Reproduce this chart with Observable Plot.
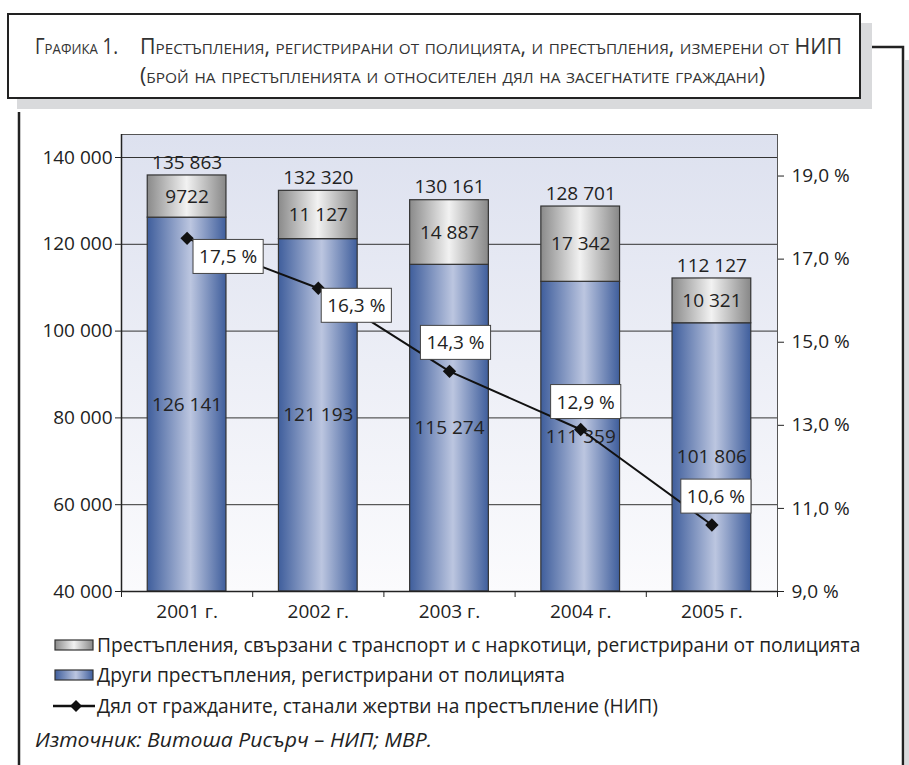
<!DOCTYPE html>
<html><head><meta charset="utf-8">
<script src="https://cdn.jsdelivr.net/npm/d3@7"></script>
<script src="https://cdn.jsdelivr.net/npm/@observablehq/plot@0.6"></script>
<style>
body{margin:0;background:#fff;}
#wrap{position:relative;width:909px;height:765px;overflow:hidden;font-family:"Open Sans",sans-serif;color:#222;}
#chart{position:absolute;left:0;top:0;}
#deco{position:absolute;left:0;top:0;}
</style></head><body>
<div id="wrap"><div id="chart"></div>
<svg id="deco" width="909" height="765" xmlns="http://www.w3.org/2000/svg">
<defs>
<linearGradient id="blueGrad" x1="0" x2="1" y1="0" y2="0">
<stop offset="0" stop-color="#3f5e9c"/><stop offset="0.55" stop-color="#bcc6e0"/><stop offset="1" stop-color="#3f5e9c"/>
</linearGradient>
<linearGradient id="greyGrad" x1="0" x2="1" y1="0" y2="0">
<stop offset="0" stop-color="#8a8a8a"/><stop offset="0.5" stop-color="#f2f2f2"/><stop offset="1" stop-color="#878787"/>
</linearGradient>
<linearGradient id="bgGrad" x1="0" x2="0" y1="0" y2="1">
<stop offset="0" stop-color="#dde1ef"/><stop offset="1" stop-color="#fbfbfd"/>
</linearGradient>
</defs>
<rect x="17" y="23" width="855" height="86" fill="#d9dadc"/>
<rect x="905" y="60" width="4" height="705" fill="#d9dadc"/>
<path d="M872 47 H903 V765" fill="none" stroke="#222" stroke-width="2.5"/>
<path d="M19 112 V765" fill="none" stroke="#222" stroke-width="2.5"/>
<rect x="8" y="14" width="852" height="84" fill="#fff" stroke="#222" stroke-width="2"/>
<g id="titleG" fill="#333" font-family="Open Sans" style="font-variant:small-caps"></g>
<g id="legendG" font-family="Open Sans" font-size="19" fill="#222"></g>
</svg>
</div>
<script>
const years = ["2001 г.", "2002 г.", "2003 г.", "2004 г.", "2005 г."];
const otherCrimes = [126141, 121193, 115274, 111359, 101806];
const transportDrugCrimes = [9722, 11127, 14887, 17342, 10321];
const victimShare = [17.5, 16.3, 14.3, 12.9, 10.6];
const leftTicks = [40000, 60000, 80000, 100000, 120000, 140000];
const rightTicks = [9, 11, 13, 15, 17, 19];
const labelDx = [41, 38, 6, 5, 4];
const labelDy = [19, 18, -28, -27, -28];
const titleLine1a = "Графика 1.";
const titleLine1b = "Престъпления, регистрирани от полицията, и престъпления, измерени от НИП";
const titleLine2 = "(брой на престъпленията и относителен дял на засегнатите граждани)";
const legendLabels = [
  "Престъпления, свързани с транспорт и с наркотици, регистрирани от полицията",
  "Други престъпления, регистрирани от полицията",
  "Дял от гражданите, станали жертви на престъпление (НИП)"
];
const sourceText = "Източник: Витоша Рисърч – НИП; МВР.";

const Y0 = 40000, Y1 = 145300, P0 = 9, P1 = 20;
const toY = p => Y0 + (p - P0) / (P1 - P0) * (Y1 - Y0);
const fromY = v => P0 + (v - Y0) / (Y1 - Y0) * (P1 - P0);
const fmtNum = n => n >= 10000 ? d3.format(",")(n).replace(/,/g, " ") : String(n);
const fmtPct = p => p.toFixed(1).replace(".", ",") + " %";

const rows = years.map((year, i) => ({
  i, year,
  other: otherCrimes[i],
  transport: transportDrugCrimes[i],
  total: otherCrimes[i] + transportDrugCrimes[i],
  share: victimShare[i]
}));

const cx = d => d.i + 0.5;

const marks = [
  Plot.frame({fill: "url(#bgGrad)", stroke: "#555"}),
  Plot.gridY(leftTicks, {stroke: "#333", strokeOpacity: 1, strokeWidth: 1}),
  Plot.rectY(rows, {x1: d => d.i + 0.2, x2: d => d.i + 0.8, y1: d => Y0, y2: d => d.other, fill: "url(#blueGrad)", stroke: "#333", strokeWidth: 1.2}),
  Plot.rectY(rows, {x1: d => d.i + 0.2, x2: d => d.i + 0.8, y1: d => d.other, y2: d => d.total, fill: "url(#greyGrad)", stroke: "#333", strokeWidth: 1.2}),
  Plot.ruleY([Y0], {stroke: "#222", strokeWidth: 1.5}),
  Plot.ruleX([0], {stroke: "#222", strokeWidth: 1.5}),
  Plot.text(rows, {x: cx, y: d => d.total, text: d => fmtNum(d.total), dy: -13, fill: "#222"}),
  Plot.text(rows, {x: cx, y: d => (d.other + d.total) / 2, text: d => fmtNum(d.transport), fill: "#222"}),
  Plot.text(rows, {x: cx, y: d => (Y0 + d.other) / 2, text: d => fmtNum(d.other), fill: "#222"}),
  Plot.line(rows, {x: cx, y: d => toY(d.share), stroke: "#111", strokeWidth: 2}),
  Plot.dot(rows, {x: cx, y: d => toY(d.share), symbol: "diamond2", r: 6, fill: "#111", stroke: "none"}),
  ...rows.map((d, i) => Plot.text([d], {x: cx, y: r => toY(r.share), text: r => fmtPct(r.share), dx: labelDx[i], dy: labelDy[i], fill: "#222"})),
  Plot.axisY(leftTicks, {anchor: "left", tickSize: 6, tickPadding: 3, tickFormat: fmtNum, label: null}),
  Plot.axisY(rightTicks.map(toY), {anchor: "right", tickSize: 6, tickPadding: 8, tickFormat: v => fmtPct(fromY(v)), label: null}),
  Plot.axisX([0, 1, 2, 3, 4, 5], {tickSize: 6, tickFormat: () => "", label: null}),
  Plot.axisX(rows.map(cx), {tickSize: 0, tickPadding: 13, tickFormat: v => years[Math.floor(v)], label: null})
];

const svg = Plot.plot({
  width: 909, height: 620,
  marginLeft: 121, marginRight: 132, marginTop: 134, marginBottom: 29,
  x: {type: "linear", domain: [0, 5]},
  y: {domain: [Y0, Y1]},
  style: {fontSize: "19px", fontFamily: "Open Sans", color: "#222", background: "transparent", overflow: "visible"},
  marks
});
document.getElementById("chart").appendChild(svg);

// white boxes behind the percentage labels
const shareLabels = new Set(victimShare.map(fmtPct));
svg.querySelectorAll("text").forEach(t => {
  if (!shareLabels.has(t.textContent)) return;
  const b = t.getBBox();
  const r = document.createElementNS("http://www.w3.org/2000/svg", "rect");
  r.setAttribute("x", b.x - 6);
  r.setAttribute("y", b.y - 4);
  r.setAttribute("width", b.width + 12);
  r.setAttribute("height", b.height + 8);
  if (t.getAttribute("transform")) r.setAttribute("transform", t.getAttribute("transform"));
  r.setAttribute("fill", "#fff"); r.setAttribute("stroke", "#444"); r.setAttribute("stroke-width", "1");
  t.parentNode.insertBefore(r, t);
});

// title
const NS = "http://www.w3.org/2000/svg";
const tg = document.getElementById("titleG");
function addText(g, str, x, y, size, len, extra) {
  const e = document.createElementNS(NS, "text");
  e.setAttribute("x", x); e.setAttribute("y", y); e.setAttribute("font-size", size);
  if (len) { e.setAttribute("textLength", len); e.setAttribute("lengthAdjust", "spacingAndGlyphs"); }
  if (extra) for (const k in extra) e.setAttribute(k, extra[k]);
  e.textContent = str; g.appendChild(e); return e;
}
addText(tg, titleLine1a, 35, 54, 21, 83);
addText(tg, titleLine1b, 140, 54, 21, 702);
addText(tg, titleLine2, 140, 83, 21, 625);

// legend
const lg = document.getElementById("legendG");
const sw1 = document.createElementNS(NS, "rect");
Object.entries({x: 55, y: 640, width: 38, height: 10, fill: "url(#greyGrad)", stroke: "#333", "stroke-width": 1.2}).forEach(([k, v]) => sw1.setAttribute(k, v));
lg.appendChild(sw1);
const sw2 = document.createElementNS(NS, "rect");
Object.entries({x: 55, y: 670, width: 38, height: 10, fill: "url(#blueGrad)", stroke: "#333", "stroke-width": 1.2}).forEach(([k, v]) => sw2.setAttribute(k, v));
lg.appendChild(sw2);
const ln = document.createElementNS(NS, "path");
ln.setAttribute("d", "M53 706 H95"); ln.setAttribute("stroke", "#111"); ln.setAttribute("stroke-width", "2.5");
lg.appendChild(ln);
const dm = document.createElementNS(NS, "path");
dm.setAttribute("d", "M76 700 L82 706 L76 712 L70 706 Z"); dm.setAttribute("fill", "#111");
lg.appendChild(dm);
addText(lg, legendLabels[0], 97, 652, 19.2);
addText(lg, legendLabels[1], 97, 682, 19.2);
addText(lg, legendLabels[2], 97, 713, 19.2);
addText(lg, sourceText, 35, 747, 20, 397, {"font-style": "italic"});
</script>
</body></html>
